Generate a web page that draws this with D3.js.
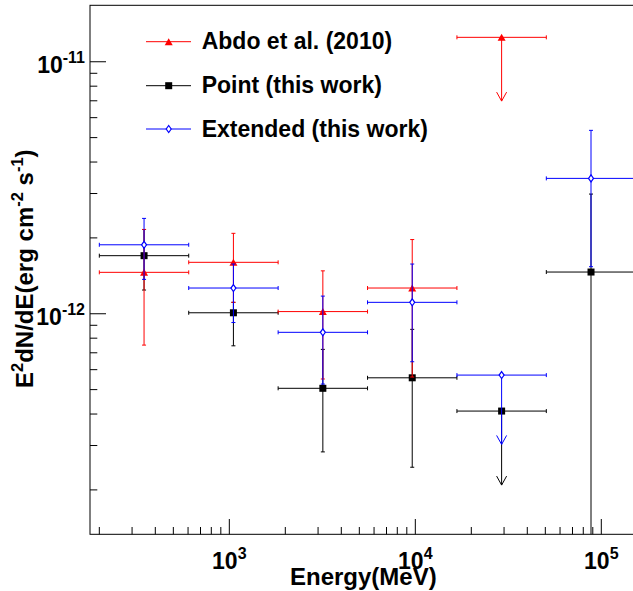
<!DOCTYPE html>
<html>
<head>
<meta charset="utf-8">
<script src="https://cdn.jsdelivr.net/npm/d3@7"></script>
<style>
  html, body { margin: 0; padding: 0; background: #fff; }
  svg { display: block; }
  text { font-family: "Liberation Sans", Arial, Helvetica, sans-serif; font-weight: bold; }
</style>
</head>
<body>
<script>
// ---- data ----
const binLow  = [200, 605, 1830, 5535, 16740, 50630];
const binHigh = [605, 1830, 5535, 16740, 50630, 153100];
const energy  = [348, 1052, 3183, 9626, 29110, 88040];

// Abdo et al. (2010)  (last one is an upper limit, lo = arrow tip)
const abdoFlux = [1.46e-12, 1.60e-12, 1.02e-12, 1.265e-12, 1.25e-11];
const abdoUp   = [2.16e-12, 2.085e-12, 1.48e-12, 1.97e-12, null];
const abdoLo   = [0.751e-12, 1.11e-12, 0.551e-12, 0.561e-12, 6.98e-12];
const abdoUL   = [false, false, false, false, true];

// Point (this work)
const pointFlux = [1.70e-12, 1.009e-12, 0.506e-12, 0.557e-12, 0.411e-12, 1.464e-12];
const pointUp   = [2.16e-12, 1.11e-12, 0.722e-12, 0.867e-12, null, 2.985e-12];
const pointLo   = [1.242e-12, 0.746e-12, 0.283e-12, 0.246e-12, 0.209e-12, 1e-14];
const pointUL   = [false, false, false, false, true, false];

// Extended (this work)
const extFlux = [1.878e-12, 1.265e-12, 0.844e-12, 1.110e-12, 0.571e-12, 3.445e-12];
const extUp   = [2.39e-12, 1.575e-12, 1.175e-12, 1.575e-12, null, 5.343e-12];
const extLo   = [1.369e-12, 0.923e-12, 0.526e-12, 0.645e-12, 0.303e-12, 1.537e-12];
const extUL   = [false, false, false, false, true, false];

const xTickLabels = [{v: 1e3, e: "3"}, {v: 1e4, e: "4"}, {v: 1e5, e: "5"}];
const yTickLabels = [{v: 1e-11, e: "-11"}, {v: 1e-12, e: "-12"}];
const legendNames = ["Abdo et al. (2010)", "Point (this work)", "Extended (this work)"];

// ---- layout ----
const W = 633, H = 591;
const L = 90, R = 634, T = 5.3, B = 534.3;

const x = d3.scaleLog().domain([178.2, 149900]).range([L, R]);
const y = d3.scaleLog().domain([1.675e-11, 1.333e-13]).range([T, B]);

const svg = d3.select("body").append("svg").attr("width", W).attr("height", H);

svg.append("defs").append("clipPath").attr("id", "clip")
  .append("rect").attr("x", L).attr("y", T).attr("width", R - L).attr("height", B - T);

// frame
svg.append("rect").attr("x", L).attr("y", T).attr("width", R - L).attr("height", B - T)
  .attr("fill", "none").attr("stroke", "#000").attr("stroke-width", 1);

// ---- axes ----
const isMajor = d => Math.abs(Math.log10(d) - Math.round(Math.log10(d))) < 1e-9;
const xTicks = x.ticks().filter(v => v >= x.domain()[0] && v <= x.domain()[1]);
const gx = svg.append("g");
gx.selectAll("line").data(xTicks).join("line")
  .attr("x1", d => x(d)).attr("x2", d => x(d))
  .attr("y1", B).attr("y2", d => B - (isMajor(d) ? 15.3 : 7.3))
  .attr("stroke", "#000").attr("stroke-width", 1);

const yTicks = y.ticks().filter(v => v <= y.domain()[0] && v >= y.domain()[1]);
const gy = svg.append("g");
gy.selectAll("line").data(yTicks).join("line")
  .attr("y1", d => y(d)).attr("y2", d => y(d))
  .attr("x1", L).attr("x2", d => L + (isMajor(d) ? 16 : 7.3))
  .attr("stroke", "#000").attr("stroke-width", 1);

// tick labels
xTickLabels.forEach(t => {
  const tx = svg.append("text").attr("x", x(t.v)).attr("y", 569).attr("text-anchor", "middle")
    .attr("font-size", 23);
  tx.append("tspan").text("10");
  tx.append("tspan").attr("dy", -10).attr("font-size", 16).text(t.e);
});
yTickLabels.forEach(t => {
  const tx = svg.append("text").attr("x", 85).attr("y", y(t.v) + 11.6).attr("text-anchor", "end")
    .attr("font-size", 23);
  tx.append("tspan").text("10");
  tx.append("tspan").attr("dy", -10).attr("font-size", 16).text(t.e);
});

// axis titles
svg.append("text").attr("x", 290).attr("y", 585).attr("font-size", 24).text("Energy(MeV)");
const yt = svg.append("text").attr("transform", "translate(33,388) rotate(-90)").attr("font-size", 24);
yt.append("tspan").text("E");
yt.append("tspan").attr("dy", -10).attr("font-size", 16.5).text("2");
yt.append("tspan").attr("dy", 10).text("dN/dE(erg cm");
yt.append("tspan").attr("dy", -10).attr("font-size", 16.5).text("-2");
yt.append("tspan").attr("dy", 10).text(" s");
yt.append("tspan").attr("dy", -10).attr("font-size", 16.5).text("-1");
yt.append("tspan").attr("dy", 10).text(")");

// ---- series ----
const plot = svg.append("g").attr("clip-path", "url(#clip)");

function marker(g, type, cx, cy, color) {
  if (type === "tri") {
    g.append("path").attr("d", `M${cx - 4},${cy + 3.5}L${cx + 4},${cy + 3.5}L${cx},${cy - 3.5}Z`)
      .attr("fill", color);
  } else if (type === "sq") {
    g.append("rect").attr("x", cx - 3.5).attr("y", cy - 3.5).attr("width", 7).attr("height", 7)
      .attr("fill", color);
  } else {
    g.append("path").attr("d", `M${cx},${cy - 3.5}L${cx + 2.5},${cy}L${cx},${cy + 3.5}L${cx - 2.5},${cy}Z`)
      .attr("fill", "#fff").attr("stroke", color).attr("stroke-width", 1.2);
  }
}

function drawSeries(flux, up, lo, ul, color, mtype) {
  const g = plot.append("g").attr("stroke", color).attr("stroke-width", 1).attr("fill", "none");
  flux.forEach((f, i) => {
    const cx = x(energy[i]), cy = y(f);
    const x0 = x(binLow[i]), x1 = x(binHigh[i]);
    g.append("line").attr("x1", x0).attr("x2", x1).attr("y1", cy).attr("y2", cy);
    g.append("line").attr("x1", x0).attr("x2", x0).attr("y1", cy - 2).attr("y2", cy + 2);
    g.append("line").attr("x1", x1).attr("x2", x1).attr("y1", cy - 2).attr("y2", cy + 2);
    if (ul[i]) {
      const ty = y(lo[i]);
      g.append("line").attr("x1", cx).attr("x2", cx).attr("y1", cy).attr("y2", ty);
      g.append("path").attr("d", `M${cx - 5},${ty - 9}L${cx},${ty}L${cx + 5},${ty - 9}`);
    } else {
      const yu = y(up[i]), yl = y(lo[i]);
      g.append("line").attr("x1", cx).attr("x2", cx).attr("y1", yu).attr("y2", yl);
      g.append("line").attr("x1", cx - 2).attr("x2", cx + 2).attr("y1", yu).attr("y2", yu);
      g.append("line").attr("x1", cx - 2).attr("x2", cx + 2).attr("y1", yl).attr("y2", yl);
    }
    const mg = plot.append("g");
    marker(mg, mtype, cx, cy, color);
  });
}

drawSeries(pointFlux, pointUp, pointLo, pointUL, "#000000", "sq");
drawSeries(abdoFlux, abdoUp, abdoLo, abdoUL, "#ff0000", "tri");
drawSeries(extFlux, extUp, extLo, extUL, "#0000ff", "dia");

// ---- legend ----
const legColors = ["#ff0000", "#000000", "#0000ff"];
const legTypes = ["tri", "sq", "dia"];
const legY = [41.7, 85.7, 129];
legendNames.forEach((n, i) => {
  const g = svg.append("g");
  g.append("line").attr("x1", 146).attr("x2", 191).attr("y1", legY[i]).attr("y2", legY[i])
    .attr("stroke", legColors[i]).attr("stroke-width", 1);
  marker(g, legTypes[i], 168.7, legY[i], legColors[i]);
  g.append("text").attr("x", 201.7).attr("y", legY[i] + 7.5).attr("font-size", 23).text(n);
});
</script>
</body>
</html>
